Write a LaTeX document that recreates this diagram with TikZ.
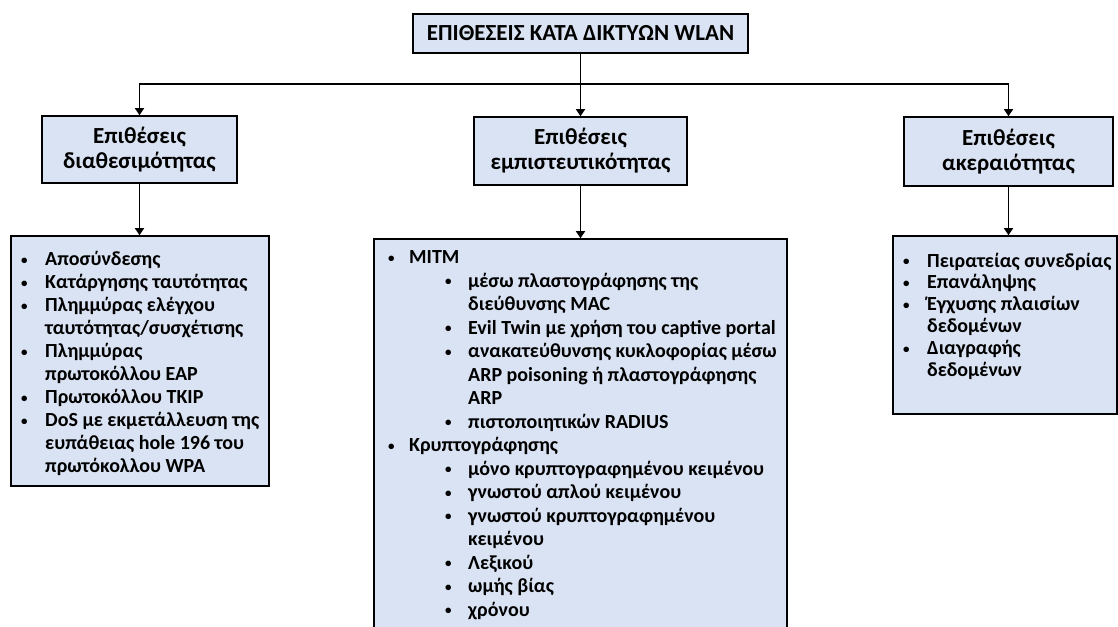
\documentclass[tikz,border=0pt]{standalone}
\usepackage{fontspec}
\setmainfont{Carlito}[BoldFont=* Bold]
\usetikzlibrary{arrows.meta}
\definecolor{boxfill}{HTML}{DAE3F3}
% bullet set in a fixed-width box
\newcommand\blt[1]{\makebox[#1pt][l]{\fontsize{13}{13}\selectfont\raisebox{1.2pt}{•}}}
\tikzset{
  box/.style={draw=black, fill=boxfill, line width=1.6pt, inner sep=0pt},
  head/.style={box, align=center, font=\fontsize{23}{25}\selectfont\bfseries},
  listtxt/.style={inner sep=0pt, align=left, anchor=north west},
  arr/.style={line width=1.6pt, -{Triangle[width=9pt,length=7pt]}},
  plain/.style={line width=1.6pt}
}
\begin{document}
\begin{tikzpicture}[x=1pt,y=-1pt]
\useasboundingbox (0,0) rectangle (1118,626);
\clip (0,0) rectangle (1118,626);
\fill[white] (0,0) rectangle (1118,626);

% title and the three categories
\node[box, minimum width=335pt, minimum height=39pt,
      font=\fontsize{23}{26}\selectfont\bfseries] (top) at (580.5,33.5) {ΕΠΙΘΕΣΕΙΣ ΚΑΤΑ ΔΙΚΤΥΩΝ WLAN};
\node[head, minimum width=195pt, minimum height=67pt] (hL) at (139.5,149.5) {Επιθέσεις\\διαθεσιμότητας};
\node[head, minimum width=213pt, minimum height=68pt] (hM) at (580.5,151) {Επιθέσεις\\εμπιστευτικότητας};
\node[head, minimum width=209pt, minimum height=69pt] (hR) at (1008.5,151.5) {Επιθέσεις\\ακεραιότητας};

% list frames
\node[box, minimum width=258pt, minimum height=250pt] (lL) at (140,361) {};
\node[box, minimum width=413pt, minimum height=420pt] (lM) at (580.5,449) {};
\node[box, minimum width=224pt, minimum height=178pt] (lR) at (1005,325) {};

% list contents
\node[listtxt, font=\fontsize{20}{23}\selectfont\bfseries] (tL) at (21,248.9) {%
\strut\blt{24}Αποσύνδεσης\\
\blt{24}Κατάργησης ταυτότητας\\
\blt{24}Πλημμύρας ελέγχου\\
\hspace*{24pt}ταυτότητας/συσχέτισης\\
\blt{24}Πλημμύρας\\
\hspace*{24pt}πρωτοκόλλου EAP\\
\blt{24}Πρωτοκόλλου TKIP\\
\blt{24}DoS με εκμετάλλευση της\\
\hspace*{24pt}ευπάθειας hole 196 του\\
\hspace*{24pt}πρωτόκολλου WPA};

\node[listtxt, font=\fontsize{20}{23.5}\selectfont\bfseries] (tM) at (388,247) {%
\strut\blt{21}MITM\\
\hspace*{57pt}\blt{23}μέσω πλαστογράφησης της\\
\hspace*{80pt}διεύθυνσης MAC\\
\hspace*{57pt}\blt{23}Evil Twin με χρήση του captive portal\\
\hspace*{57pt}\blt{23}ανακατεύθυνσης κυκλοφορίας μέσω\\
\hspace*{80pt}ARP poisoning ή πλαστογράφησης\\
\hspace*{80pt}ARP\\
\hspace*{57pt}\blt{23}πιστοποιητικών RADIUS\\
\blt{21}Κρυπτογράφησης\\
\hspace*{57pt}\blt{23}μόνο κρυπτογραφημένου κειμένου\\
\hspace*{57pt}\blt{23}γνωστού απλού κειμένου\\
\hspace*{57pt}\blt{23}γνωστού κρυπτογραφημένου\\
\hspace*{80pt}κειμένου\\
\hspace*{57pt}\blt{23}Λεξικού\\
\hspace*{57pt}\blt{23}ωμής βίας\\
\hspace*{57pt}\blt{23}χρόνου};

\node[listtxt, font=\fontsize{20}{21.8}\selectfont\bfseries] (tR) at (903,251.7) {%
\strut\blt{24}Πειρατείας συνεδρίας\\
\blt{24}Επανάληψης\\
\blt{24}Έγχυσης πλαισίων\\
\hspace*{24pt}δεδομένων\\
\blt{24}Διαγραφής\\
\hspace*{24pt}δεδομένων};

% connectors
\coordinate (bus) at (580.5,84);
\draw[plain] (top.south) -- (bus);
\draw[arr] (bus) -| (hL.north);
\draw[arr] (bus) -| (hR.north);
\draw[arr] (bus) -- (hM.north);
\draw[arr] (hL.south) -- (hL.south |- lL.north);
\draw[arr] (hM.south) -- (hM.south |- lM.north);
\draw[arr] (hR.south) -- (hR.south |- lR.north);
\end{tikzpicture}
\end{document}
